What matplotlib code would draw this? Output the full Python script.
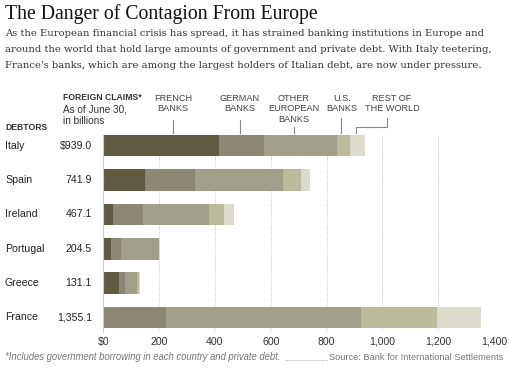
import matplotlib.pyplot as plt
import numpy as np

W, H = 510, 369

debtors = ["Italy", "Spain", "Ireland", "Portugal", "Greece", "France"]
totals = ["$939.0", "741.9", "467.1", "204.5", "131.1", "1,355.1"]
creditors = ["FRENCH\nBANKS", "GERMAN\nBANKS", "OTHER\nEUROPEAN\nBANKS", "U.S.\nBANKS", "REST OF\nTHE WORLD"]

# claims by creditor group, in billions
french = [415, 151, 33, 26, 56, 0]
german = [162, 178, 111, 36, 23, 224]
other_eu = [259, 314, 235, 136, 41, 699]
us_banks = [48, 67, 55, 3, 7, 271]
rest = [55, 32, 33, 3.5, 4.1, 161.1]

colors = ["#5f5a40", "#8b8774", "#a19f89", "#bbbb9c", "#dcdacb"]
ticks = [0, 200, 400, 600, 800, 1000, 1200, 1400]
tick_labels = ["$0", "200", "400", "600", "800", "1,000", "1,200", "1,400"]


def fx(x):
    return x / W


def fy(y):
    return 1 - y / H


fig = plt.figure(figsize=(W / 100, H / 100), dpi=100)
ax = fig.add_axes([fx(103.3), fy(332), fx(494) - fx(103.3), (332 - 135) / H])

y = np.arange(len(debtors))
left = np.zeros(len(debtors))
for vals, c in zip([french, german, other_eu, us_banks, rest], colors):
    ax.barh(y, vals, left=left, height=0.625, color=c, zorder=2)
    left += np.array(vals)

ax.set_xlim(0, 1400)
ax.set_ylim(5.42, -0.311)
for t in ticks[1:]:
    ax.axvline(t, color="#c4c4c4", lw=0.7, ls=(0, (1, 1.5)), zorder=1)
for s in ["top", "right", "bottom"]:
    ax.spines[s].set_visible(False)
ax.spines["left"].set_color("#cccccc")
ax.spines["left"].set_linewidth(0.8)
ax.set_yticks([])
ax.set_xticks(ticks)
ax.set_xticklabels(tick_labels, fontsize=7.6, color="#333333", family="Liberation Sans")
ax.tick_params(axis="x", length=0, pad=3.5)

sans = "Liberation Sans"
for i, (d, t) in enumerate(zip(debtors, totals)):
    yy = 145.7 + i * 34.36
    fig.text(fx(5), fy(yy), d, fontsize=7.6, family=sans, color="#222222", va="center")
    fig.text(fx(92), fy(yy), t, fontsize=7.6, family=sans, color="#222222", va="center", ha="right")

# headers
fig.text(fx(5), fy(128), "DEBTORS", fontsize=6.2, family=sans, weight="bold", color="#333333", va="center")
fig.text(fx(63), fy(98), "FOREIGN CLAIMS*", fontsize=6.2, family=sans, weight="bold", color="#333333", va="center")
fig.text(fx(63), fy(110), "As of June 30,", fontsize=7.2, family=sans, color="#333333", va="center")
fig.text(fx(63), fy(121), "in billions", fontsize=7.2, family=sans, color="#333333", va="center")

label_x = [173, 240, 294, 342, 392]
for lab, lx in zip(creditors, label_x):
    fig.text(fx(lx), fy(94), lab, fontsize=6.6, family=sans, color="#444444", ha="center", va="top",
             linespacing=1.2)

lc = "#888888"
for x0, y0 in [(172.7, 120), (240, 120), (294.3, 127.5), (341, 118)]:
    fig.add_artist(plt.Line2D([fx(x0), fx(x0)], [fy(y0), fy(133.3)], color=lc, lw=0.8))
fig.add_artist(plt.Line2D([fx(386.7), fx(386.7), fx(355.7), fx(355.7)],
                          [fy(118), fy(126.7), fy(126.7), fy(133.3)], color=lc, lw=0.8))

# title and intro
fig.text(fx(5), fy(14), "The Danger of Contagion From Europe", fontsize=14.2,
         family="Liberation Serif", color="#111111", va="center")
intro = ("As the European financial crisis has spread, it has strained banking institutions in Europe and\n"
         "around the world that hold large amounts of government and private debt. With Italy teetering,\n"
         "France's banks, which are among the largest holders of Italian debt, are now under pressure.")
fig.text(fx(5), fy(29), intro, fontsize=7.2, family="DejaVu Serif", color="#333333", va="top",
         linespacing=2.0)

# footer
fig.text(fx(5), fy(357), "*Includes government borrowing in each country and private debt.", fontsize=6.85,
         family=sans, style="italic", color="#777777", va="center")
fig.text(fx(503), fy(357), "Source: Bank for International Settlements", fontsize=6.7,
         family=sans, color="#777777", va="center", ha="right")
fig.add_artist(plt.Line2D([fx(285), fx(328)], [fy(359.5), fy(359.5)], color="#aaaaaa", lw=0.6,
                          ls=(0, (1, 1))))

fig.savefig("out.png", dpi=100)
